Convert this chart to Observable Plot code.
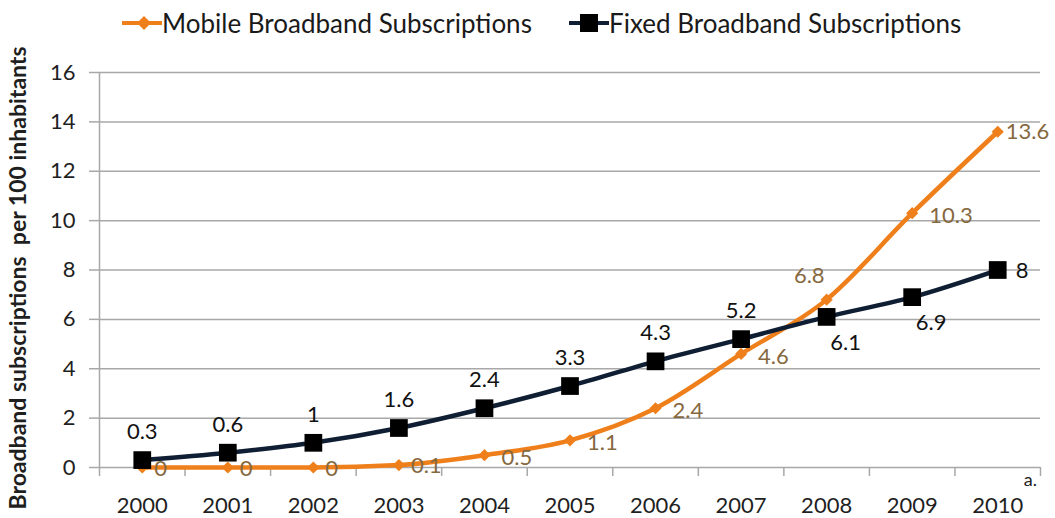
<!DOCTYPE html>
<html>
<head>
<meta charset="utf-8">
<script src="https://cdn.jsdelivr.net/npm/d3@7"></script>
<script src="https://cdn.jsdelivr.net/npm/@observablehq/plot@0.6"></script>
<style>
  html, body { margin: 0; padding: 0; background: #fff; }
  body { width: 1055px; height: 518px; overflow: hidden; font-family: Lato, "Open Sans", sans-serif; position: relative; }
  #legend { position: absolute; left: 0; top: 0; width: 1055px; height: 44px; font-size: 26px; color: #1a1a1a; z-index: 2; }
  .item { position: absolute; top: 7px; display: flex; align-items: center; white-space: nowrap; }
  .item svg { margin-right: 0px; }
  #chart { position: absolute; left: 0; top: 0; }
</style>
</head>
<body>
<div id="chart"></div>
<div id="legend"></div>
<script>
const years = [2000, 2001, 2002, 2003, 2004, 2005, 2006, 2007, 2008, 2009, 2010];
const mobile = [0, 0, 0, 0.1, 0.5, 1.1, 2.4, 4.6, 6.8, 10.3, 13.6];
const fixed = [0.3, 0.6, 1, 1.6, 2.4, 3.3, 4.3, 5.2, 6.1, 6.9, 8];
const yTicks = [0, 2, 4, 6, 8, 10, 12, 14, 16];
const seriesNames = ["Mobile Broadband Subscriptions", "Fixed Broadband Subscriptions"];
const yTitle = "Broadband subscriptions  per 100 inhabitants";
const footnoteMark = "a.";

const orange = "#ef7f1a";
const navy = "#0f1e33";
const mobileLabelColor = "#86683f";
const gridColor = "#a8a8a8";

const data = years.map((year, i) => ({year, mobile: mobile[i], fixed: fixed[i]}));
const lastYear = years[years.length - 1];
const boundaries = [years[0] - 0.5, ...years.map(y => y + 0.5)];

// Legend (HTML, overlaid on the top strip above the plot frame)
const legend = document.getElementById("legend");
const legendSpecs = [
  {name: seriesNames[0], color: orange, marker: "diamond", left: 122},
  {name: seriesNames[1], color: navy, marker: "square", left: 569}
];
for (const s of legendSpecs) {
  const item = document.createElement("div");
  item.className = "item";
  item.style.left = s.left + "px";
  const markerSvg = s.marker === "diamond"
    ? `<path d="M22,4 L29,11 L22,18 L15,11 Z" fill="${s.color}"/>`
    : `<rect x="11" y="2" width="18" height="18" fill="#000"/>`;
  item.innerHTML = `<svg width="40" height="22"><line x1="0" x2="40" y1="11" y2="11" stroke="${s.color}" stroke-width="4"/>${markerSvg}</svg><span>${s.name}</span>`;
  legend.appendChild(item);
}

const fmt = d => String(d);
const mobileOnAxis = data.filter(d => d.year <= 2003);
const mobileRight = data.filter(d => d.year >= 2004 && d.year <= 2007 || d.year === 2009);
const mobileAbove = data.filter(d => d.year === 2008);
const mobileEnd = data.filter(d => d.year === 2010);
const fixedAbove = data.filter(d => d.year <= 2007);
const fixedBelow = data.filter(d => d.year === 2008 || d.year === 2009);
const fixedEnd = data.filter(d => d.year === 2010);

const chart = Plot.plot({
  width: 1055,
  height: 518,
  marginTop: 72,
  marginBottom: 51,
  marginLeft: 99,
  marginRight: 15,
  x: {type: "linear", domain: [years[0] - 0.5, lastYear + 0.5]},
  y: {domain: [yTicks[0], yTicks[yTicks.length - 1]]},
  style: {fontFamily: "Lato, 'Open Sans', sans-serif", fontSize: "22px", color: "#1f1f1f", background: "#fff"},
  marks: [
    Plot.gridY(yTicks, {stroke: gridColor, strokeOpacity: 1, strokeWidth: 1.5}),
    Plot.axisY(yTicks, {tickSize: 10, tickPadding: 14, stroke: gridColor, strokeWidth: 1.5, label: null, tickFormat: fmt}),
    Plot.ruleX([boundaries[0]], {stroke: gridColor, strokeWidth: 1.5}),
    Plot.axisX(boundaries, {tickSize: 9, tickFormat: () => "", stroke: gridColor, strokeWidth: 1.5, label: null}),
    Plot.axisX(years, {tickSize: 0, tickPadding: 30, tickFormat: fmt, label: null}),
    Plot.text([lastYear], {x: d => d, frameAnchor: "bottom", text: () => footnoteMark, textAnchor: "start", dx: 26, dy: 18, fontSize: 18, fill: "#222"}),
    Plot.text([yTitle], {frameAnchor: "left", text: d => d, rotate: -90, textAnchor: "middle", dx: -81, dy: 8, fontWeight: "bold", fontSize: 23, fill: "#1f1f1f"}),

    // Mobile series
    Plot.line(data, {x: "year", y: "mobile", stroke: orange, strokeWidth: 4.5, curve: "monotone-x"}),
    Plot.dot(data, {x: "year", y: "mobile", symbol: "diamond2", r: 5.5, fill: orange, stroke: null}),

    // Fixed series
    Plot.line(data, {x: "year", y: "fixed", stroke: navy, strokeWidth: 4.5, curve: "monotone-x"}),
    Plot.dot(data, {x: "year", y: "fixed", symbol: "square", r: 10, fill: "#000", stroke: null}),

    // Mobile labels
    Plot.text(mobileOnAxis, {x: "year", y: "mobile", text: d => fmt(d.mobile), textAnchor: "start", dx: 12, dy: 1, fill: mobileLabelColor}),
    Plot.text(mobileRight, {x: "year", y: "mobile", text: d => fmt(d.mobile), textAnchor: "start", dx: 17, dy: 3, fill: mobileLabelColor}),
    Plot.text(mobileAbove, {x: "year", y: "mobile", text: d => fmt(d.mobile), textAnchor: "end", dx: -2, dy: -24, fill: mobileLabelColor}),
    Plot.text(mobileEnd, {x: "year", y: "mobile", text: d => fmt(d.mobile), textAnchor: "start", dx: 8, dy: 0, fill: mobileLabelColor}),

    // Fixed labels
    Plot.text(fixedAbove, {x: "year", y: "fixed", text: d => fmt(d.fixed), dy: -28, fill: "#111"}),
    Plot.text(fixedBelow, {x: "year", y: "fixed", text: d => fmt(d.fixed), dx: 19, dy: 26, fill: "#111"}),
    Plot.text(fixedEnd, {x: "year", y: "fixed", text: d => fmt(d.fixed), textAnchor: "start", dx: 18, dy: 1, fill: "#111"})
  ]
});
document.getElementById("chart").appendChild(chart);
</script>
</body>
</html>
